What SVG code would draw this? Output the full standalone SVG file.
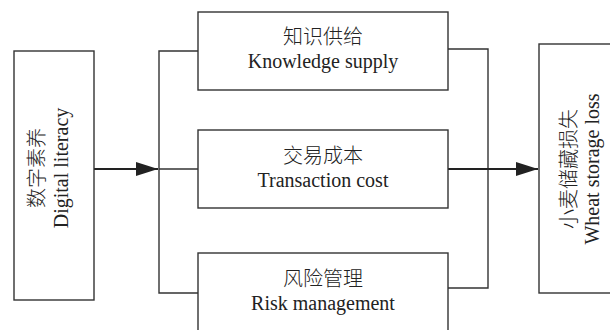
<svg xmlns="http://www.w3.org/2000/svg" width="610" height="330" viewBox="0 0 610 330">
<defs>
<marker id="arr" markerWidth="22" markerHeight="14" refX="22" refY="7" orient="auto" markerUnits="userSpaceOnUse">
<path d="M0,0 L22,7 L0,14 Z" fill="#222"/>
</marker>
<style>
.box{fill:#fff;stroke:#333;stroke-width:1.4}
.ln{fill:none;stroke:#333;stroke-width:1.4}
.ar{fill:none;stroke:#222;stroke-width:1.8}
.zh{font-family:"Noto Sans CJK SC","Liberation Serif",serif;font-size:20px;fill:#222;text-anchor:middle;font-weight:300}
.en{font-family:"Liberation Serif","Times New Roman",serif;font-size:20px;fill:#222;text-anchor:middle}
</style>
</defs>
<rect width="610" height="330" fill="#fff"/>
<g id="connectors">
<path class="ln" d="M198,51 H159 V293 H198"/>
<path class="ln" d="M159,169 H198"/>
<path class="ar" d="M94,169 H158" marker-end="url(#arr)"/>
<path class="ln" d="M448,49 H488 V288 H448"/>
<path class="ar" d="M448,169 H538" marker-end="url(#arr)"/>
</g>
<g id="digital-literacy">
<rect class="box" x="14" y="51" width="80" height="249"/>
<text class="zh" transform="translate(44,168) rotate(-90)">数字素养</text>
<text class="en" transform="translate(68,168) rotate(-90)">Digital literacy</text>
</g>
<g id="knowledge-supply">
<rect class="box" x="198" y="12" width="250" height="78"/>
<text class="zh" x="323" y="44">知识供给</text>
<text class="en" x="323" y="68">Knowledge supply</text>
</g>
<g id="transaction-cost">
<rect class="box" x="198" y="130" width="250" height="78"/>
<text class="zh" x="323" y="163">交易成本</text>
<text class="en" x="323" y="187">Transaction cost</text>
</g>
<g id="risk-management">
<rect class="box" x="198" y="253" width="250" height="90"/>
<text class="zh" x="323" y="286">风险管理</text>
<text class="en" x="323" y="310">Risk management</text>
</g>
<g id="wheat-storage-loss">
<rect class="box" x="539" y="44" width="80" height="249"/>
<text class="zh" transform="translate(576,169) rotate(-90)">小麦储藏损失</text>
<text class="en" transform="translate(599,169) rotate(-90)">Wheat storage loss</text>
</g>
</svg>
